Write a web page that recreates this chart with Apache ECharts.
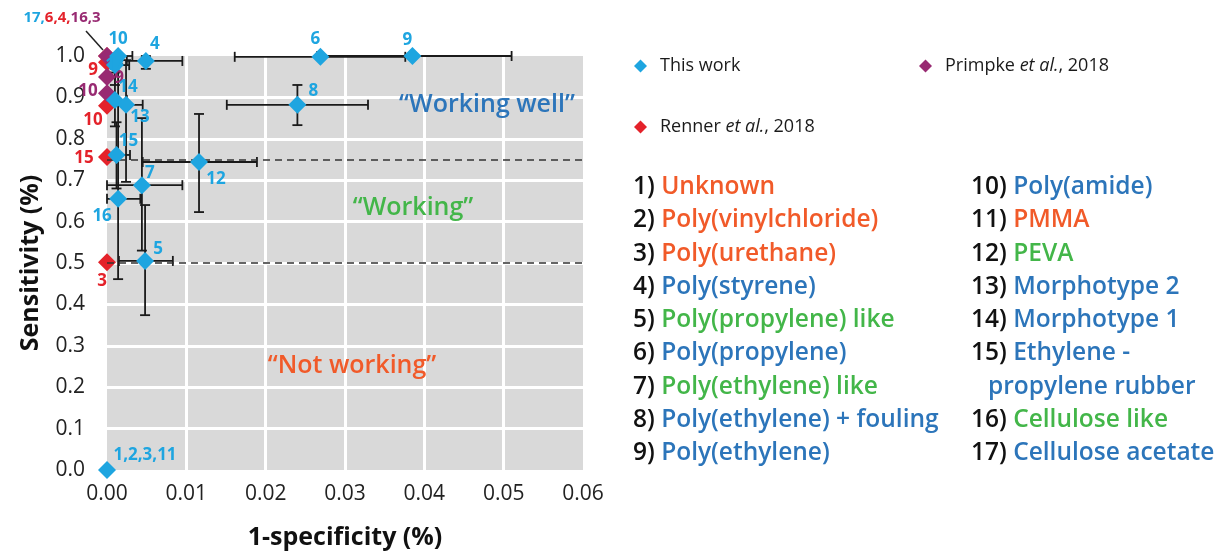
<!DOCTYPE html>
<html><head><meta charset="utf-8">
<script src="https://cdn.jsdelivr.net/npm/echarts@6.0.0/dist/echarts.min.js"></script>
<style>html,body{margin:0;padding:0;background:#fff}#c{width:1216px;height:552px}</style>
</head><body><div id="c"></div>
<script>
// ---------- DATA ----------
// "This work" points
const twLabels = ['1,2,3,11','10','17','4','6','9','8','14','13','15','7','12','16','5'];
const twX   = [0, 0.0014, 0.0010, 0.0049, 0.0269, 0.0385, 0.0240, 0.0010, 0.0024, 0.0012, 0.0044, 0.0116, 0.0014, 0.0048];
const twY   = [0, 1.000, 0.978, 0.988, 0.998, 1.000, 0.882, 0.894, 0.882, 0.761, 0.688, 0.744, 0.655, 0.505];
const twXLo = [null, 0, 0, 0.0025, 0.0161, 0.0265, 0.0151, 0, 0.0005, 0, 0, 0.0045, 0, 0.0015];
const twXHi = [null, 0.0032, 0.0028, 0.0095, 0.0376, 0.0510, 0.0329, 0.0025, 0.0045, 0.0029, 0.0095, 0.0189, 0.0042, 0.0083];
const twYLo = [null, null, 0.930, 0.969, null, null, 0.833, 0.830, 0.696, 0.680, 0.530, 0.623, 0.461, 0.374];
const twYHi = [null, null, 1.000, 1.000, null, null, 0.930, 0.960, 0.990, 0.840, 0.850, 0.860, 0.980, 0.640];
// Renner et al., 2018
const rnLabels = ['', '9', '10', '15', '3'];
const rnX = [0, 0, 0, 0, 0];
const rnY = [1.000, 0.985, 0.880, 0.756, 0.502];
// Primpke et al., 2018
const prLabels = ['', '9', '10'];
const prX = [0, 0, 0];
const prY = [1.000, 0.949, 0.910];
// thresholds
const thresholds = [0.75, 0.5];
// axis ticks
const xTicks = [0, 0.01, 0.02, 0.03, 0.04, 0.05, 0.06];
const yTicks = [0, 0.1, 0.2, 0.3, 0.4, 0.5, 0.6, 0.7, 0.8, 0.9, 1.0];
// numbered list
const listNums  = ['1)','2)','3)','4)','5)','6)','7)','8)','9)','10)','11)','12)','13)','14)','15)','16)','17)'];
const listNames = ['Unknown','Poly(vinylchloride)','Poly(urethane)','Poly(styrene)','Poly(propylene) like',
  'Poly(propylene)','Poly(ethylene) like','Poly(ethylene) + fouling','Poly(ethylene)','Poly(amide)','PMMA','PEVA',
  'Morphotype 2','Morphotype 1','Ethylene -\npropylene rubber','Cellulose like','Cellulose acetate'];
const listClass = ['not','not','not','well','ok','well','ok','well','well','well','not','ok','well','well','well','ok','well'];
const leaderParts = [['17,','tw'],['6,4,','rn'],['16,3','pr']];

// ---------- STYLE ----------
const C = {tw:'#1ea5e0', rn:'#e4222a', pr:'#982a72', not:'#f15a29', ok:'#43b649', well:'#2c75ba'};
const FONT = '"Open Sans", "Noto Sans", sans-serif';
const twOff = {'1,2,3,11':[38,-15],'10':[0,-17],'17':[0,0],'4':[9,-17],'6':[-5,-18],'9':[-5,-16],'8':[16,-14],
  '14':[13,-13],'13':[14,12],'15':[12,-14],'7':[8,-12],'12':[17,17],'16':[-16,17],'5':[13,-12]};
const rnOff = {'':[0,0],'9':[-14,8],'10':[-14,14],'15':[-23,1],'3':[-5,19]};
const prOff = {'':[0,0],'9':[12,1],'10':[-19,-2]};

function pts(xs, ys, labels, offs, color){
  return xs.map((x,i)=>({
    value:[x, ys[i]],
    label:{show: labels[i] !== '', formatter: labels[i], position:'inside', offset: offs[labels[i]],
      color: color, fontSize: 17, fontWeight: 'bold', fontFamily: FONT}
  }));
}

const chart = echarts.init(document.getElementById('c'));

const graphics = [];
// leader label + line
graphics.push({type:'line', shape:{x1:86,y1:31,x2:103,y2:50}, style:{stroke:'#222', lineWidth:1.5}, z:10});
graphics.push({type:'text', x:62, y:18, style:{
  text: leaderParts.map(p=>'{'+p[1]+'|'+p[0]+'}').join(''),
  rich:{tw:{fill:C.tw},rn:{fill:C.rn},pr:{fill:C.pr}},
  font:'bold 15px '+FONT, align:'center', verticalAlign:'middle'}, z:10});
// zone annotations
graphics.push({type:'text', x:487, y:105, style:{text:'\u201cWorking well\u201d', fill:C.well, font:'600 25px '+FONT, align:'center', verticalAlign:'middle'}, z:10});
graphics.push({type:'text', x:413, y:208, style:{text:'\u201cWorking\u201d', fill:C.ok, font:'600 25px '+FONT, align:'center', verticalAlign:'middle'}, z:10});
graphics.push({type:'text', x:352, y:366, style:{text:'\u201cNot working\u201d', fill:C.not, font:'600 25px '+FONT, align:'center', verticalAlign:'middle'}, z:10});
// numbered list
const rowY0 = 187, rowH = 33.3;
let row2 = 0;
listNums.forEach((n,i)=>{
  const col = i < 9 ? 0 : 1;
  const row = col === 0 ? i : row2;
  const x = col === 0 ? 633 : 971;
  const y = rowY0 + row*rowH;
  const lines = listNames[i].split('\n');
  graphics.push({type:'text', x:x, y:y, style:{
    text:'{n|'+n+' }{t|'+lines[0]+'}', rich:{n:{fill:'#111'}, t:{fill:C[listClass[i]]}},
    font:'600 24.5px '+FONT, verticalAlign:'middle'}});
  if (lines.length > 1){
    graphics.push({type:'text', x:x+17, y:y+rowH, style:{text:lines[1], fill:C[listClass[i]], font:'600 24.5px '+FONT, verticalAlign:'middle'}});
  }
  if (col === 1) row2 += lines.length;
});

function legendText(name){
  const m = name.match(/^(.*?) et al\.(.*)$/);
  if (!m) return '{n|'+name+'}';
  return '{n|'+m[1]+' }{i|et al.}{n|'+m[2]+'}';
}
const legRich = {n:{fontSize:18, fontFamily:FONT, color:'#1a1a1a'}, i:{fontSize:18, fontFamily:FONT, fontStyle:'italic', color:'#1a1a1a'}};
function legendAt(name, left, top){
  return {show:true, data:[name], left:left, top:top, icon:'diamond', itemWidth:13, itemHeight:13,
    selectedMode:false, formatter: legendText, textStyle:{rich: legRich, padding:[0,0,0,8]}};
}

const option = {
  animation:false,
  textStyle:{fontFamily:FONT},
  grid:{left:107, right:633, top:56, bottom:82, show:true, backgroundColor:'#d9d9d9', borderWidth:0,
    containLabel:false, outerBoundsMode:'none'},
  legend:[
    legendAt('This work', 629, 52),
    legendAt('Primpke et al., 2018', 914, 52),
    legendAt('Renner et al., 2018', 629, 113)
  ],
  xAxis:{type:'value', min:xTicks[0], max:xTicks[xTicks.length-1], interval:xTicks[1]-xTicks[0],
    name:'1-specificity (%)', nameLocation:'middle', nameGap:55,
    nameTextStyle:{fontSize:25, fontWeight:'bold', color:'#111', fontFamily:FONT},
    axisLine:{show:false}, axisTick:{show:false},
    axisLabel:{formatter:v=>v.toFixed(2), fontSize:21, color:'#222', margin:14, fontFamily:FONT},
    splitLine:{show:true, showMinLine:false, showMaxLine:false, lineStyle:{color:'#fff', width:3}}},
  yAxis:{type:'value', min:yTicks[0], max:yTicks[yTicks.length-1], interval:0.1,
    name:'Sensitivity (%)', nameLocation:'middle', nameGap:64, nameRotate:90,
    nameTextStyle:{fontSize:25, fontWeight:'bold', color:'#111', fontFamily:FONT},
    axisLine:{show:false}, axisTick:{show:false},
    axisLabel:{formatter:v=>v.toFixed(1), fontSize:21, color:'#222', margin:22, fontFamily:FONT},
    splitLine:{show:true, showMinLine:false, showMaxLine:false, lineStyle:{color:'#fff', width:3}}},
  graphic: graphics,
  series:[
    {type:'line', data:[], z:1, markLine:{silent:true, symbol:'none', label:{show:false},
      lineStyle:{type:[7,5], color:'#333', width:1.5}, data: thresholds.map(t=>({yAxis:t}))}},
    {type:'custom', name:'err', z:2, silent:true, clip:false,
      data: twX.map((x,i)=>[x, twY[i]]),
      renderItem:(params, api)=>{
        const i = params.dataIndex, ch = [], cap = 5;
        const st = {stroke:'#1a1a1a', lineWidth:1.8};
        if (twXLo[i] !== null){
          const a = api.coord([twXLo[i], twY[i]]), b = api.coord([twXHi[i], twY[i]]);
          ch.push({type:'line', shape:{x1:a[0],y1:a[1],x2:b[0],y2:b[1]}, style:st});
          ch.push({type:'line', shape:{x1:a[0],y1:a[1]-cap,x2:a[0],y2:a[1]+cap}, style:st});
          ch.push({type:'line', shape:{x1:b[0],y1:b[1]-cap,x2:b[0],y2:b[1]+cap}, style:st});
        }
        if (twYLo[i] !== null){
          const a = api.coord([twX[i], twYLo[i]]), b = api.coord([twX[i], twYHi[i]]);
          ch.push({type:'line', shape:{x1:a[0],y1:a[1],x2:b[0],y2:b[1]}, style:st});
          ch.push({type:'line', shape:{x1:a[0]-cap,y1:a[1],x2:a[0]+cap,y2:a[1]}, style:st});
          ch.push({type:'line', shape:{x1:b[0]-cap,y1:b[1],x2:b[0]+cap,y2:b[1]}, style:st});
        }
        return {type:'group', children:ch};
      }},
    {type:'scatter', name:'Renner et al., 2018', z:3, symbol:'diamond', symbolSize:18, clip:false,
      itemStyle:{color:C.rn, opacity:1}, data: pts(rnX, rnY, rnLabels, rnOff, C.rn)},
    {type:'scatter', name:'Primpke et al., 2018', z:4, symbol:'diamond', symbolSize:18, clip:false,
      itemStyle:{color:C.pr, opacity:1}, data: pts(prX, prY, prLabels, prOff, C.pr)},
    {type:'scatter', name:'This work', z:5, symbol:'diamond', symbolSize:18, clip:false,
      itemStyle:{color:C.tw, opacity:1}, data: pts(twX, twY, twLabels, twOff, C.tw)}
  ]
};
chart.setOption(option);
</script>
</body></html>
